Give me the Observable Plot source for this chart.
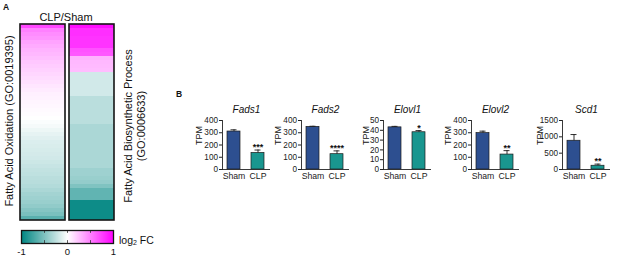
<!DOCTYPE html>
<html><head><meta charset="utf-8">
<script src="https://cdn.jsdelivr.net/npm/d3@7"></script>
<script src="https://cdn.jsdelivr.net/npm/@observablehq/plot@0.6"></script>
<style>
body{margin:0;background:#fff;font-family:"Liberation Sans",Arial,sans-serif;}
#fig{position:relative;width:617px;height:260px;overflow:hidden;background:#fff;}
.part{position:absolute;}
.lbl{position:absolute;white-space:nowrap;color:#111;line-height:1;}
.rot{transform:translate(-50%,-50%) rotate(-90deg);text-align:center;}
</style></head><body><div id="fig"></div>
<script>
// ---------- Data (panel A: heatmap of log2 FC, CLP/Sham) ----------
const oxidationLog2FC = [0.72,0.5,0.45,0.42,0.36,0.33,0.3,0.28,0.25,0.22,0.2,0.18,0.16,0.14,0.12,0.1,0.08,0.06,0.05,0.04,0.03,0.02,0.01,0,-0.02,-0.04,-0.07,-0.1,-0.12,-0.14,-0.15,-0.16,-0.17,-0.18,-0.2,-0.22,-0.24,-0.25,-0.27,-0.28,-0.3,-0.33,-0.36,-0.38,-0.4,-0.43,-0.48,-0.52,-0.65];
const biosynthLog2FC = [0.95,0.82,0.82,0.8,0.8,0.8,0.68,0.66,0.3,0.28,0.27,0.26,-0.18,-0.18,-0.18,-0.18,-0.18,-0.18,-0.27,-0.27,-0.27,-0.27,-0.27,-0.27,-0.27,-0.33,-0.33,-0.33,-0.33,-0.33,-0.33,-0.33,-0.33,-0.33,-0.33,-0.33,-0.38,-0.38,-0.4,-0.42,-0.5,-0.62,-0.62,-0.62,-0.95,-0.95,-0.95,-0.95,-0.95];
const heatColumns = ["Fatty Acid Oxidation", "Fatty Acid Biosynthetic Process"];
const legendTicks = [-1, 0, 1];
const legendMinorTicks = [-1, -0.5, 0, 0.5, 1];

// ---------- Data (panel B: TPM bar charts) ----------
const genes = ["Fads1", "Fads2", "Elovl1", "Elovl2", "Scd1"];
const groups = ["Sham", "CLP"];
const shamMean = [310, 348, 43, 297, 880];
const shamSem = [14, 5, 1, 16, 190];
const clpMean = [135, 125, 38, 122, 115];
const clpSem = [24, 27, 1.7, 32, 50];
const significance = ["***", "****", "*", "**", "**"];
const yMax = [400, 400, 50, 400, 1500];
const yTicks = [[0,100,200,300,400],[0,100,200,300,400],[0,10,20,30,40,50],[0,100,200,300,400],[0,500,1000,1500]];

// ---------- Layout (pixels) ----------
const FONT = "'Liberation Sans', Arial, sans-serif";
const axisX = [222, 301, 383, 471, 562];
const tpmOffset = [23, 23, 17, 23, 22];
const colors = {Sham: "#2d4f90", CLP: "#19968f"};
const fig = document.getElementById("fig");
function place(node, left, top) {
  const d = document.createElement("div");
  d.className = "part"; d.style.left = left + "px"; d.style.top = top + "px";
  d.appendChild(node); fig.appendChild(d);
}
function label(html, left, top, css) {
  const d = document.createElement("div");
  d.className = "lbl"; d.innerHTML = html;
  d.style.left = left + "px"; d.style.top = top + "px";
  Object.assign(d.style, css || {});
  fig.appendChild(d);
  return d;
}
const colorScale = {type: "linear", domain: [-1, 0, 1], range: ["#008682", "#ffffff", "#ff00ff"], interpolate: "rgb"};

// ---------- Heatmap ----------
const cells = [];
oxidationLog2FC.forEach((v, i) => cells.push({col: heatColumns[0], row: i, v}));
biosynthLog2FC.forEach((v, i) => cells.push({col: heatColumns[1], row: i, v}));
const heat = Plot.plot({
  width: 120, height: 225,
  marginLeft: 19.5, marginRight: 5.5, marginTop: 24, marginBottom: 5,
  style: {fontFamily: FONT, background: "transparent", overflow: "visible"},
  x: {domain: heatColumns, paddingInner: 0.085, paddingOuter: 0, axis: null},
  y: {domain: oxidationLog2FC.map((d, i) => i), padding: 0, axis: null},
  color: colorScale,
  marks: [
    Plot.cell(cells, {x: "col", y: "row", fill: "v", inset: 0, shapeRendering: "crispEdges"}),
    Plot.cell(heatColumns, {x: d => d, fill: "none", stroke: "#151515", strokeWidth: 1.6})
  ]
});
place(heat, 0, 0);

// ---------- Color legend ----------
const legend = Plot.plot({
  width: 118, height: 35,
  marginLeft: 21, marginRight: 5, marginTop: 5, marginBottom: 17,
  style: {fontFamily: FONT, background: "transparent", overflow: "visible", color: "#111"},
  x: {domain: [-1, 1]},
  y: {domain: [0, 1], axis: null},
  color: colorScale,
  marks: [
    Plot.raster({x1: -1, x2: 1, y1: 0, y2: 1, fill: (x, y) => x, pixelSize: 1}),
    Plot.ruleX(legendMinorTicks, {y1: 0, y2: 0.22, stroke: "#333", strokeWidth: 0.8}),
    Plot.ruleX(legendMinorTicks, {y1: 0.78, y2: 1, stroke: "#333", strokeWidth: 0.8}),
    Plot.frame({stroke: "#151515", strokeWidth: 1.3}),
    Plot.axisX(legendTicks, {tickSize: 0, tickPadding: 5, fontSize: 9.5, tickFormat: d => String(d), label: null})
  ]
});
place(legend, 0, 225);

// ---------- Bar charts ----------
genes.forEach((g, i) => {
  const rows = [
    {group: groups[0], mean: shamMean[i], sem: shamSem[i]},
    {group: groups[1], mean: clpMean[i], sem: clpSem[i], sig: significance[i]}
  ];
  const mL = 36;
  const p = Plot.plot({
    width: mL + 48 + 3, height: 95,
    marginLeft: mL, marginRight: 3, marginTop: 25, marginBottom: 21,
    style: {fontFamily: FONT, background: "transparent", overflow: "visible", color: "#222"},
    x: {domain: groups, paddingInner: 0.449, paddingOuter: 0.204, axis: null},
    y: {domain: [0, yMax[i]], axis: null},
    marks: [
      Plot.barY(rows, {x: "group", y: "mean", fill: d => colors[d.group], stroke: "#1a1a1a", strokeWidth: 0.7}),
      Plot.ruleX(rows, {x: "group", y1: "mean", y2: d => d.mean + d.sem, stroke: "#1a1a1a", strokeWidth: 0.9}),
      Plot.tickY(rows, {x: "group", y: d => d.mean + d.sem, insetLeft: 3.5, insetRight: 3.5, stroke: "#1a1a1a", strokeWidth: 0.9}),
      Plot.text(rows.filter(d => d.sig), {x: "group", y: d => d.mean + d.sem, text: "sig", lineAnchor: "bottom", dy: 0, fontSize: 9, fontWeight: "bold", fill: "#111"}),
      Plot.ruleY([0], {stroke: "#222", strokeWidth: 0.9}),
      Plot.frame({anchor: "left", stroke: "#222", strokeWidth: 0.9}),
      Plot.axisY({ticks: yTicks[i], tickSize: 3, tickPadding: 1.5, fontSize: 8.2, label: null, tickFormat: d => String(d)}),
      Plot.axisX({tickSize: 0, tickPadding: 3, fontSize: 8.7, label: null}),
      Plot.text([g], {frameAnchor: "top", dy: -15, text: d => d, fontStyle: "italic", fontSize: 10, fill: "#111"}),
      Plot.text(["TPM"], {frameAnchor: "left", dx: -tpmOffset[i], rotate: -90, text: d => d, fontSize: 9, fill: "#111"})
    ]
  });
  place(p, axisX[i] - mL, 95);
});

// ---------- Text annotations ----------
label("A", 3, 3, {fontWeight: "bold", fontSize: "8.5px"});
label("B", 176, 90, {fontWeight: "bold", fontSize: "8.5px"});
label("CLP/Sham", 66, 17, {fontSize: "11px", transform: "translate(-50%,-50%)"});
label("Fatty Acid Oxidation (GO:0019395)", 9, 121, {fontSize: "11px"}).classList.add("rot");
label("Fatty Acid Biosynthetic Process<br>(GO:0006633)", 134.5, 126, {fontSize: "11px", lineHeight: "13px"}).classList.add("rot");
label("log<sub style='font-size:7px;vertical-align:-1px'>2</sub> FC", 119, 240, {fontSize: "10.5px", transform: "translateY(-50%)"});
</script>
</body></html>
